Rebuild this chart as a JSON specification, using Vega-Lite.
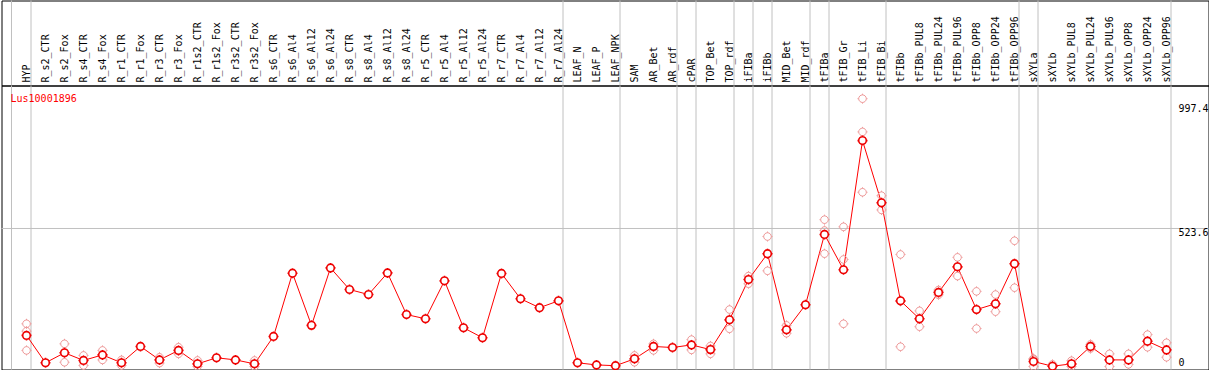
{
  "$schema": "https://vega.github.io/schema/vega-lite/v6.json",
  "padding": {"left": 0.5, "top": -0.5, "right": 0, "bottom": 0},
  "spacing": 0,
  "bounds": "flush",
  "config": {"view": {"stroke": "#000000", "strokeWidth": 1}, "font": "DejaVu Sans Mono"},
  "datasets": {
    "seps": [{"name": "HYP"}, {"name": "R_r7_Al24"}, {"name": "LEAF_NPK"}, {"name": "AR_rdf"}, {"name": "cPAR"}, {"name": "TOP_rdf"}, {"name": "iFIBa"}, {"name": "iFIBb"}, {"name": "MID_rdf"}, {"name": "tFIBa"}, {"name": "tFIB_Bi"}, {"name": "tFIBb_OPP96"}, {"name": "sXYLa"}, {"name": "sXYLb_OPP96"}],
    "first": [{"name": "HYP", "gene": "Lus10001896"}],
    "ticks": [{"name": "sXYLb_OPP96", "v": 523.6}, {"name": "sXYLb_OPP96", "v": 997.4}],
    "zero": [{"name": "sXYLb_OPP96", "v": 0}],
    "means": [
      {"name": "HYP", "value": 118}, {"name": "R_s2_CTR", "value": 14}, {"name": "R_s2_Fox", "value": 52}, {"name": "R_s4_CTR", "value": 23}, {"name": "R_s4_Fox", "value": 44}, {"name": "R_r1_CTR", "value": 14}, {"name": "R_r1_Fox", "value": 76}, {"name": "R_r3_CTR", "value": 25}, {"name": "R_r3_Fox", "value": 61}, {"name": "R_r1s2_CTR", "value": 10}, {"name": "R_r1s2_Fox", "value": 33}, {"name": "R_r3s2_CTR", "value": 25}, {"name": "R_r3s2_Fox", "value": 10},
      {"name": "R_s6_CTR", "value": 114}, {"name": "R_s6_Al4", "value": 354}, {"name": "R_s6_Al12", "value": 156}, {"name": "R_s6_Al24", "value": 374},
      {"name": "R_s8_CTR", "value": 292}, {"name": "R_s8_Al4", "value": 273}, {"name": "R_s8_Al12", "value": 355}, {"name": "R_s8_Al24", "value": 197},
      {"name": "R_r5_CTR", "value": 181}, {"name": "R_r5_Al4", "value": 325}, {"name": "R_r5_Al12", "value": 147}, {"name": "R_r5_Al24", "value": 109},
      {"name": "R_r7_CTR", "value": 353}, {"name": "R_r7_Al4", "value": 257}, {"name": "R_r7_Al12", "value": 223}, {"name": "R_r7_Al24", "value": 249},
      {"name": "LEAF_N", "value": 14}, {"name": "LEAF_P", "value": 6}, {"name": "LEAF_NPK", "value": 3}, {"name": "SAM", "value": 29}, {"name": "AR_Bet", "value": 76}, {"name": "AR_rdf", "value": 72}, {"name": "cPAR", "value": 82}, {"name": "TOP_Bet", "value": 64}, {"name": "TOP_rdf", "value": 177}, {"name": "iFIBa", "value": 330}, {"name": "iFIBb", "value": 428}, {"name": "MID_Bet", "value": 139}, {"name": "MID_rdf", "value": 234},
      {"name": "tFIBa", "value": 501}, {"name": "tFIB_Gr", "value": 367}, {"name": "tFIB_Li", "value": 857}, {"name": "tFIB_Bi", "value": 621}, {"name": "tFIBb", "value": 249}, {"name": "tFIBb_PUL8", "value": 181}, {"name": "tFIBb_PUL24", "value": 281}, {"name": "tFIBb_PUL96", "value": 378}, {"name": "tFIBb_OPP8", "value": 216}, {"name": "tFIBb_OPP24", "value": 238}, {"name": "tFIBb_OPP96", "value": 390},
      {"name": "sXYLa", "value": 19}, {"name": "sXYLb", "value": 1}, {"name": "sXYLb_PUL8", "value": 10}, {"name": "sXYLb_PUL24", "value": 76}, {"name": "sXYLb_PUL96", "value": 25}, {"name": "sXYLb_OPP8", "value": 25}, {"name": "sXYLb_OPP24", "value": 96}, {"name": "sXYLb_OPP96", "value": 63}
    ],
    "reps": [
      {"name": "HYP", "value": 162}, {"name": "HYP", "value": 134}, {"name": "HYP", "value": 61},
      {"name": "R_s2_Fox", "value": 86}, {"name": "R_s2_Fox", "value": 52}, {"name": "R_s2_Fox", "value": 16},
      {"name": "R_s4_CTR", "value": 42}, {"name": "R_s4_CTR", "value": 23}, {"name": "R_s4_CTR", "value": 4},
      {"name": "R_s4_Fox", "value": 61}, {"name": "R_s4_Fox", "value": 44}, {"name": "R_s4_Fox", "value": 25},
      {"name": "R_r1_CTR", "value": 25}, {"name": "R_r1_CTR", "value": 14}, {"name": "R_r1_CTR", "value": 4},
      {"name": "R_r3_CTR", "value": 35}, {"name": "R_r3_CTR", "value": 25}, {"name": "R_r3_CTR", "value": 13},
      {"name": "R_r3_Fox", "value": 73}, {"name": "R_r3_Fox", "value": 61}, {"name": "R_r3_Fox", "value": 48},
      {"name": "R_r1s2_CTR", "value": 23}, {"name": "R_r1s2_CTR", "value": 10}, {"name": "R_r1s2_CTR", "value": 0},
      {"name": "R_r3s2_Fox", "value": 23}, {"name": "R_r3s2_Fox", "value": 10}, {"name": "R_r3s2_Fox", "value": 0},
      {"name": "SAM", "value": 42}, {"name": "SAM", "value": 29}, {"name": "SAM", "value": 16},
      {"name": "AR_Bet", "value": 86}, {"name": "AR_Bet", "value": 76}, {"name": "AR_Bet", "value": 61},
      {"name": "cPAR", "value": 102}, {"name": "cPAR", "value": 82}, {"name": "cPAR", "value": 63},
      {"name": "TOP_Bet", "value": 78}, {"name": "TOP_Bet", "value": 64}, {"name": "TOP_Bet", "value": 48},
      {"name": "TOP_rdf", "value": 216}, {"name": "TOP_rdf", "value": 177}, {"name": "TOP_rdf", "value": 143},
      {"name": "iFIBa", "value": 343}, {"name": "iFIBa", "value": 330}, {"name": "iFIBa", "value": 314},
      {"name": "iFIBb", "value": 493}, {"name": "iFIBb", "value": 428}, {"name": "iFIBb", "value": 363},
      {"name": "MID_Bet", "value": 156}, {"name": "MID_Bet", "value": 139}, {"name": "MID_Bet", "value": 126},
      {"name": "tFIBa", "value": 557}, {"name": "tFIBa", "value": 516}, {"name": "tFIBa", "value": 428},
      {"name": "tFIB_Gr", "value": 530}, {"name": "tFIB_Gr", "value": 406}, {"name": "tFIB_Gr", "value": 162},
      {"name": "tFIB_Li", "value": 1016}, {"name": "tFIB_Li", "value": 890}, {"name": "tFIB_Li", "value": 661},
      {"name": "tFIB_Bi", "value": 648}, {"name": "tFIB_Bi", "value": 621}, {"name": "tFIB_Bi", "value": 594},
      {"name": "tFIBb", "value": 425}, {"name": "tFIBb", "value": 247}, {"name": "tFIBb", "value": 75},
      {"name": "tFIBb_PUL8", "value": 211}, {"name": "tFIBb_PUL8", "value": 181}, {"name": "tFIBb_PUL8", "value": 151},
      {"name": "tFIBb_PUL24", "value": 290}, {"name": "tFIBb_PUL24", "value": 281}, {"name": "tFIBb_PUL24", "value": 272},
      {"name": "tFIBb_PUL96", "value": 414}, {"name": "tFIBb_PUL96", "value": 378}, {"name": "tFIBb_PUL96", "value": 343},
      {"name": "tFIBb_OPP8", "value": 285}, {"name": "tFIBb_OPP8", "value": 216}, {"name": "tFIBb_OPP8", "value": 144},
      {"name": "tFIBb_OPP24", "value": 273}, {"name": "tFIBb_OPP24", "value": 238}, {"name": "tFIBb_OPP24", "value": 208},
      {"name": "tFIBb_OPP96", "value": 477}, {"name": "tFIBb_OPP96", "value": 390}, {"name": "tFIBb_OPP96", "value": 299},
      {"name": "sXYLa", "value": 30}, {"name": "sXYLa", "value": 27}, {"name": "sXYLa", "value": 0},
      {"name": "sXYLb", "value": 8}, {"name": "sXYLb", "value": 0}, {"name": "sXYLb", "value": 0},
      {"name": "sXYLb_PUL8", "value": 22}, {"name": "sXYLb_PUL8", "value": 8}, {"name": "sXYLb_PUL8", "value": 0},
      {"name": "sXYLb_PUL24", "value": 84}, {"name": "sXYLb_PUL24", "value": 76}, {"name": "sXYLb_PUL24", "value": 68},
      {"name": "sXYLb_PUL96", "value": 48}, {"name": "sXYLb_PUL96", "value": 25}, {"name": "sXYLb_PUL96", "value": 0},
      {"name": "sXYLb_OPP8", "value": 48}, {"name": "sXYLb_OPP8", "value": 25}, {"name": "sXYLb_OPP8", "value": 8},
      {"name": "sXYLb_OPP24", "value": 121}, {"name": "sXYLb_OPP24", "value": 96}, {"name": "sXYLb_OPP24", "value": 73},
      {"name": "sXYLb_OPP96", "value": 90}, {"name": "sXYLb_OPP96", "value": 63}, {"name": "sXYLb_OPP96", "value": 35}
    ]
  },
  "vconcat": [
    {
      "width": 1207,
      "height": 85,
      "layer": [
        {
          "data": {"name": "seps"},
          "mark": {"type": "rule", "color": "#c0c0c0", "strokeWidth": 1},
          "encoding": {
            "x": {"field": "name", "type": "nominal", "bandPosition": 0.737, "axis": null,
              "scale": {"type": "band", "range": [15.5, 1174.5], "paddingInner": 0, "paddingOuter": 0, "domain": ["HYP","R_s2_CTR","R_s2_Fox","R_s4_CTR","R_s4_Fox","R_r1_CTR","R_r1_Fox","R_r3_CTR","R_r3_Fox","R_r1s2_CTR","R_r1s2_Fox","R_r3s2_CTR","R_r3s2_Fox","R_s6_CTR","R_s6_Al4","R_s6_Al12","R_s6_Al24","R_s8_CTR","R_s8_Al4","R_s8_Al12","R_s8_Al24","R_r5_CTR","R_r5_Al4","R_r5_Al12","R_r5_Al24","R_r7_CTR","R_r7_Al4","R_r7_Al12","R_r7_Al24","LEAF_N","LEAF_P","LEAF_NPK","SAM","AR_Bet","AR_rdf","cPAR","TOP_Bet","TOP_rdf","iFIBa","iFIBb","MID_Bet","MID_rdf","tFIBa","tFIB_Gr","tFIB_Li","tFIB_Bi","tFIBb","tFIBb_PUL8","tFIBb_PUL24","tFIBb_PUL96","tFIBb_OPP8","tFIBb_OPP24","tFIBb_OPP96","sXYLa","sXYLb","sXYLb_PUL8","sXYLb_PUL24","sXYLb_PUL96","sXYLb_OPP8","sXYLb_OPP24","sXYLb_OPP96"]}},
            "y": {"datum": 0, "type": "quantitative", "scale": {"domain": [0, 1], "nice": false, "zero": false}, "axis": null},
            "y2": {"datum": 1}
          }
        },
        {
          "data": {"name": "first"},
          "mark": {"type": "rule", "color": "#c0c0c0", "strokeWidth": 1},
          "encoding": {
            "x": {"field": "name", "type": "nominal", "bandPosition": -0.29, "axis": null,
              "scale": {"type": "band", "range": [15.5, 1174.5], "paddingInner": 0, "paddingOuter": 0, "domain": ["HYP","R_s2_CTR","R_s2_Fox","R_s4_CTR","R_s4_Fox","R_r1_CTR","R_r1_Fox","R_r3_CTR","R_r3_Fox","R_r1s2_CTR","R_r1s2_Fox","R_r3s2_CTR","R_r3s2_Fox","R_s6_CTR","R_s6_Al4","R_s6_Al12","R_s6_Al24","R_s8_CTR","R_s8_Al4","R_s8_Al12","R_s8_Al24","R_r5_CTR","R_r5_Al4","R_r5_Al12","R_r5_Al24","R_r7_CTR","R_r7_Al4","R_r7_Al12","R_r7_Al24","LEAF_N","LEAF_P","LEAF_NPK","SAM","AR_Bet","AR_rdf","cPAR","TOP_Bet","TOP_rdf","iFIBa","iFIBb","MID_Bet","MID_rdf","tFIBa","tFIB_Gr","tFIB_Li","tFIB_Bi","tFIBb","tFIBb_PUL8","tFIBb_PUL24","tFIBb_PUL96","tFIBb_OPP8","tFIBb_OPP24","tFIBb_OPP96","sXYLa","sXYLb","sXYLb_PUL8","sXYLb_PUL24","sXYLb_PUL96","sXYLb_OPP8","sXYLb_OPP24","sXYLb_OPP96"]}},
            "y": {"datum": 0, "type": "quantitative", "scale": {"domain": [0, 1], "nice": false, "zero": false}, "axis": null},
            "y2": {"datum": 1}
          }
        },
        {
          "data": {"name": "means"},
          "mark": {"type": "text", "angle": 270, "align": "left", "baseline": "middle", "dx": 3, "font": "DejaVu Sans Mono", "fontSize": 10, "color": "#000000"},
          "encoding": {
            "x": {"field": "name", "type": "nominal", "axis": null,
              "scale": {"type": "band", "range": [15.5, 1174.5], "paddingInner": 0, "paddingOuter": 0, "domain": ["HYP","R_s2_CTR","R_s2_Fox","R_s4_CTR","R_s4_Fox","R_r1_CTR","R_r1_Fox","R_r3_CTR","R_r3_Fox","R_r1s2_CTR","R_r1s2_Fox","R_r3s2_CTR","R_r3s2_Fox","R_s6_CTR","R_s6_Al4","R_s6_Al12","R_s6_Al24","R_s8_CTR","R_s8_Al4","R_s8_Al12","R_s8_Al24","R_r5_CTR","R_r5_Al4","R_r5_Al12","R_r5_Al24","R_r7_CTR","R_r7_Al4","R_r7_Al12","R_r7_Al24","LEAF_N","LEAF_P","LEAF_NPK","SAM","AR_Bet","AR_rdf","cPAR","TOP_Bet","TOP_rdf","iFIBa","iFIBb","MID_Bet","MID_rdf","tFIBa","tFIB_Gr","tFIB_Li","tFIB_Bi","tFIBb","tFIBb_PUL8","tFIBb_PUL24","tFIBb_PUL96","tFIBb_OPP8","tFIBb_OPP24","tFIBb_OPP96","sXYLa","sXYLb","sXYLb_PUL8","sXYLb_PUL24","sXYLb_PUL96","sXYLb_OPP8","sXYLb_OPP24","sXYLb_OPP96"]}},
            "y": {"datum": 0, "type": "quantitative", "scale": {"domain": [0, 1], "nice": false, "zero": false}, "axis": null},
            "text": {"field": "name"}
          }
        }
      ]
    },
    {
      "width": 1207,
      "height": 284,
      "layer": [
        {
          "data": {"name": "seps"},
          "mark": {"type": "rule", "color": "#c0c0c0", "strokeWidth": 1},
          "encoding": {
            "x": {"field": "name", "type": "nominal", "bandPosition": 0.737, "axis": null,
              "scale": {"type": "band", "range": [15.5, 1174.5], "paddingInner": 0, "paddingOuter": 0, "domain": ["HYP","R_s2_CTR","R_s2_Fox","R_s4_CTR","R_s4_Fox","R_r1_CTR","R_r1_Fox","R_r3_CTR","R_r3_Fox","R_r1s2_CTR","R_r1s2_Fox","R_r3s2_CTR","R_r3s2_Fox","R_s6_CTR","R_s6_Al4","R_s6_Al12","R_s6_Al24","R_s8_CTR","R_s8_Al4","R_s8_Al12","R_s8_Al24","R_r5_CTR","R_r5_Al4","R_r5_Al12","R_r5_Al24","R_r7_CTR","R_r7_Al4","R_r7_Al12","R_r7_Al24","LEAF_N","LEAF_P","LEAF_NPK","SAM","AR_Bet","AR_rdf","cPAR","TOP_Bet","TOP_rdf","iFIBa","iFIBb","MID_Bet","MID_rdf","tFIBa","tFIB_Gr","tFIB_Li","tFIB_Bi","tFIBb","tFIBb_PUL8","tFIBb_PUL24","tFIBb_PUL96","tFIBb_OPP8","tFIBb_OPP24","tFIBb_OPP96","sXYLa","sXYLb","sXYLb_PUL8","sXYLb_PUL24","sXYLb_PUL96","sXYLb_OPP8","sXYLb_OPP24","sXYLb_OPP96"]}},
            "y": {"datum": -11.4, "type": "quantitative", "scale": {"domain": [-11.4, 1066], "nice": false, "zero": false}, "axis": null},
            "y2": {"datum": 1066}
          }
        },
        {
          "data": {"name": "first"},
          "mark": {"type": "rule", "color": "#c0c0c0", "strokeWidth": 1},
          "encoding": {
            "x": {"field": "name", "type": "nominal", "bandPosition": -0.29, "axis": null,
              "scale": {"type": "band", "range": [15.5, 1174.5], "paddingInner": 0, "paddingOuter": 0, "domain": ["HYP","R_s2_CTR","R_s2_Fox","R_s4_CTR","R_s4_Fox","R_r1_CTR","R_r1_Fox","R_r3_CTR","R_r3_Fox","R_r1s2_CTR","R_r1s2_Fox","R_r3s2_CTR","R_r3s2_Fox","R_s6_CTR","R_s6_Al4","R_s6_Al12","R_s6_Al24","R_s8_CTR","R_s8_Al4","R_s8_Al12","R_s8_Al24","R_r5_CTR","R_r5_Al4","R_r5_Al12","R_r5_Al24","R_r7_CTR","R_r7_Al4","R_r7_Al12","R_r7_Al24","LEAF_N","LEAF_P","LEAF_NPK","SAM","AR_Bet","AR_rdf","cPAR","TOP_Bet","TOP_rdf","iFIBa","iFIBb","MID_Bet","MID_rdf","tFIBa","tFIB_Gr","tFIB_Li","tFIB_Bi","tFIBb","tFIBb_PUL8","tFIBb_PUL24","tFIBb_PUL96","tFIBb_OPP8","tFIBb_OPP24","tFIBb_OPP96","sXYLa","sXYLb","sXYLb_PUL8","sXYLb_PUL24","sXYLb_PUL96","sXYLb_OPP8","sXYLb_OPP24","sXYLb_OPP96"]}},
            "y": {"datum": -11.4, "type": "quantitative", "scale": {"domain": [-11.4, 1066], "nice": false, "zero": false}, "axis": null},
            "y2": {"datum": 1066}
          }
        },
        {
          "data": {"name": "first"},
          "mark": {"type": "rule", "color": "#c0c0c0", "strokeWidth": 1},
          "encoding": {
            "y": {"datum": 523.6, "type": "quantitative", "scale": {"domain": [-11.4, 1066], "nice": false, "zero": false}, "axis": null}
          }
        },
        {
          "data": {"name": "means"},
          "mark": {"type": "line", "color": "#ff0000", "strokeWidth": 1},
          "encoding": {
            "x": {"field": "name", "type": "nominal", "axis": null,
              "scale": {"type": "band", "range": [15.5, 1174.5], "paddingInner": 0, "paddingOuter": 0, "domain": ["HYP","R_s2_CTR","R_s2_Fox","R_s4_CTR","R_s4_Fox","R_r1_CTR","R_r1_Fox","R_r3_CTR","R_r3_Fox","R_r1s2_CTR","R_r1s2_Fox","R_r3s2_CTR","R_r3s2_Fox","R_s6_CTR","R_s6_Al4","R_s6_Al12","R_s6_Al24","R_s8_CTR","R_s8_Al4","R_s8_Al12","R_s8_Al24","R_r5_CTR","R_r5_Al4","R_r5_Al12","R_r5_Al24","R_r7_CTR","R_r7_Al4","R_r7_Al12","R_r7_Al24","LEAF_N","LEAF_P","LEAF_NPK","SAM","AR_Bet","AR_rdf","cPAR","TOP_Bet","TOP_rdf","iFIBa","iFIBb","MID_Bet","MID_rdf","tFIBa","tFIB_Gr","tFIB_Li","tFIB_Bi","tFIBb","tFIBb_PUL8","tFIBb_PUL24","tFIBb_PUL96","tFIBb_OPP8","tFIBb_OPP24","tFIBb_OPP96","sXYLa","sXYLb","sXYLb_PUL8","sXYLb_PUL24","sXYLb_PUL96","sXYLb_OPP8","sXYLb_OPP24","sXYLb_OPP96"]}},
            "y": {"field": "value", "type": "quantitative", "scale": {"domain": [-11.4, 1066], "nice": false, "zero": false}, "axis": null},
            "order": {"value": null}
          }
        },
        {
          "data": {"name": "reps"},
          "mark": {"type": "point", "shape": "M-0.76,0A0.76,0.76,0,1,1,0.76,0A0.76,0.76,0,1,1,-0.76,0Z M0,-1L0,-0.76 M0,0.76L0,1 M-1,0L-0.76,0 M0.76,0L1,0", "size": 100, "filled": false, "stroke": "#ee9a9a", "strokeWidth": 1, "opacity": 1},
          "encoding": {
            "x": {"field": "name", "type": "nominal", "axis": null,
              "scale": {"type": "band", "range": [15.5, 1174.5], "paddingInner": 0, "paddingOuter": 0, "domain": ["HYP","R_s2_CTR","R_s2_Fox","R_s4_CTR","R_s4_Fox","R_r1_CTR","R_r1_Fox","R_r3_CTR","R_r3_Fox","R_r1s2_CTR","R_r1s2_Fox","R_r3s2_CTR","R_r3s2_Fox","R_s6_CTR","R_s6_Al4","R_s6_Al12","R_s6_Al24","R_s8_CTR","R_s8_Al4","R_s8_Al12","R_s8_Al24","R_r5_CTR","R_r5_Al4","R_r5_Al12","R_r5_Al24","R_r7_CTR","R_r7_Al4","R_r7_Al12","R_r7_Al24","LEAF_N","LEAF_P","LEAF_NPK","SAM","AR_Bet","AR_rdf","cPAR","TOP_Bet","TOP_rdf","iFIBa","iFIBb","MID_Bet","MID_rdf","tFIBa","tFIB_Gr","tFIB_Li","tFIB_Bi","tFIBb","tFIBb_PUL8","tFIBb_PUL24","tFIBb_PUL96","tFIBb_OPP8","tFIBb_OPP24","tFIBb_OPP96","sXYLa","sXYLb","sXYLb_PUL8","sXYLb_PUL24","sXYLb_PUL96","sXYLb_OPP8","sXYLb_OPP24","sXYLb_OPP96"]}},
            "y": {"field": "value", "type": "quantitative", "scale": {"domain": [-11.4, 1066], "nice": false, "zero": false}, "axis": null}
          }
        },
        {
          "data": {"name": "means"},
          "mark": {"type": "point", "shape": "M-0.76,0A0.76,0.76,0,1,1,0.76,0A0.76,0.76,0,1,1,-0.76,0Z M0,-1L0,-0.76 M0,0.76L0,1 M-1,0L-0.76,0 M0.76,0L1,0", "size": 100, "filled": false, "fill": "#ffffff", "fillOpacity": 1, "stroke": "#ee0000", "strokeWidth": 1.6, "opacity": 1},
          "encoding": {
            "x": {"field": "name", "type": "nominal", "axis": null,
              "scale": {"type": "band", "range": [15.5, 1174.5], "paddingInner": 0, "paddingOuter": 0, "domain": ["HYP","R_s2_CTR","R_s2_Fox","R_s4_CTR","R_s4_Fox","R_r1_CTR","R_r1_Fox","R_r3_CTR","R_r3_Fox","R_r1s2_CTR","R_r1s2_Fox","R_r3s2_CTR","R_r3s2_Fox","R_s6_CTR","R_s6_Al4","R_s6_Al12","R_s6_Al24","R_s8_CTR","R_s8_Al4","R_s8_Al12","R_s8_Al24","R_r5_CTR","R_r5_Al4","R_r5_Al12","R_r5_Al24","R_r7_CTR","R_r7_Al4","R_r7_Al12","R_r7_Al24","LEAF_N","LEAF_P","LEAF_NPK","SAM","AR_Bet","AR_rdf","cPAR","TOP_Bet","TOP_rdf","iFIBa","iFIBb","MID_Bet","MID_rdf","tFIBa","tFIB_Gr","tFIB_Li","tFIB_Bi","tFIBb","tFIBb_PUL8","tFIBb_PUL24","tFIBb_PUL96","tFIBb_OPP8","tFIBb_OPP24","tFIBb_OPP96","sXYLa","sXYLb","sXYLb_PUL8","sXYLb_PUL24","sXYLb_PUL96","sXYLb_OPP8","sXYLb_OPP24","sXYLb_OPP96"]}},
            "y": {"field": "value", "type": "quantitative", "scale": {"domain": [-11.4, 1066], "nice": false, "zero": false}, "axis": null}
          }
        },
        {
          "data": {"name": "first"},
          "mark": {"type": "text", "align": "left", "baseline": "top", "dy": 8, "font": "DejaVu Sans Mono", "fontSize": 10, "color": "#ff0000"},
          "encoding": {
            "x": {"field": "name", "type": "nominal", "bandPosition": -0.342, "axis": null,
              "scale": {"type": "band", "range": [15.5, 1174.5], "paddingInner": 0, "paddingOuter": 0, "domain": ["HYP","R_s2_CTR","R_s2_Fox","R_s4_CTR","R_s4_Fox","R_r1_CTR","R_r1_Fox","R_r3_CTR","R_r3_Fox","R_r1s2_CTR","R_r1s2_Fox","R_r3s2_CTR","R_r3s2_Fox","R_s6_CTR","R_s6_Al4","R_s6_Al12","R_s6_Al24","R_s8_CTR","R_s8_Al4","R_s8_Al12","R_s8_Al24","R_r5_CTR","R_r5_Al4","R_r5_Al12","R_r5_Al24","R_r7_CTR","R_r7_Al4","R_r7_Al12","R_r7_Al24","LEAF_N","LEAF_P","LEAF_NPK","SAM","AR_Bet","AR_rdf","cPAR","TOP_Bet","TOP_rdf","iFIBa","iFIBb","MID_Bet","MID_rdf","tFIBa","tFIB_Gr","tFIB_Li","tFIB_Bi","tFIBb","tFIBb_PUL8","tFIBb_PUL24","tFIBb_PUL96","tFIBb_OPP8","tFIBb_OPP24","tFIBb_OPP96","sXYLa","sXYLb","sXYLb_PUL8","sXYLb_PUL24","sXYLb_PUL96","sXYLb_OPP8","sXYLb_OPP24","sXYLb_OPP96"]}},
            "y": {"datum": 1066, "type": "quantitative", "scale": {"domain": [-11.4, 1066], "nice": false, "zero": false}, "axis": null},
            "text": {"field": "gene"}
          }
        },
        {
          "data": {"name": "ticks"},
          "mark": {"type": "text", "align": "left", "baseline": "top", "font": "DejaVu Sans Mono", "fontSize": 10, "color": "#000000"},
          "encoding": {
            "x": {"field": "name", "type": "nominal", "bandPosition": 1.13, "axis": null,
              "scale": {"type": "band", "range": [15.5, 1174.5], "paddingInner": 0, "paddingOuter": 0, "domain": ["HYP","R_s2_CTR","R_s2_Fox","R_s4_CTR","R_s4_Fox","R_r1_CTR","R_r1_Fox","R_r3_CTR","R_r3_Fox","R_r1s2_CTR","R_r1s2_Fox","R_r3s2_CTR","R_r3s2_Fox","R_s6_CTR","R_s6_Al4","R_s6_Al12","R_s6_Al24","R_s8_CTR","R_s8_Al4","R_s8_Al12","R_s8_Al24","R_r5_CTR","R_r5_Al4","R_r5_Al12","R_r5_Al24","R_r7_CTR","R_r7_Al4","R_r7_Al12","R_r7_Al24","LEAF_N","LEAF_P","LEAF_NPK","SAM","AR_Bet","AR_rdf","cPAR","TOP_Bet","TOP_rdf","iFIBa","iFIBb","MID_Bet","MID_rdf","tFIBa","tFIB_Gr","tFIB_Li","tFIB_Bi","tFIBb","tFIBb_PUL8","tFIBb_PUL24","tFIBb_PUL96","tFIBb_OPP8","tFIBb_OPP24","tFIBb_OPP96","sXYLa","sXYLb","sXYLb_PUL8","sXYLb_PUL24","sXYLb_PUL96","sXYLb_OPP8","sXYLb_OPP24","sXYLb_OPP96"]}},
            "y": {"field": "v", "type": "quantitative", "scale": {"domain": [-11.4, 1066], "nice": false, "zero": false}, "axis": null},
            "text": {"field": "v", "type": "quantitative", "format": "~g"}
          }
        },
        {
          "data": {"name": "zero"},
          "mark": {"type": "text", "align": "left", "baseline": "alphabetic", "font": "DejaVu Sans Mono", "fontSize": 10, "color": "#000000"},
          "encoding": {
            "x": {"field": "name", "type": "nominal", "bandPosition": 1.13, "axis": null,
              "scale": {"type": "band", "range": [15.5, 1174.5], "paddingInner": 0, "paddingOuter": 0, "domain": ["HYP","R_s2_CTR","R_s2_Fox","R_s4_CTR","R_s4_Fox","R_r1_CTR","R_r1_Fox","R_r3_CTR","R_r3_Fox","R_r1s2_CTR","R_r1s2_Fox","R_r3s2_CTR","R_r3s2_Fox","R_s6_CTR","R_s6_Al4","R_s6_Al12","R_s6_Al24","R_s8_CTR","R_s8_Al4","R_s8_Al12","R_s8_Al24","R_r5_CTR","R_r5_Al4","R_r5_Al12","R_r5_Al24","R_r7_CTR","R_r7_Al4","R_r7_Al12","R_r7_Al24","LEAF_N","LEAF_P","LEAF_NPK","SAM","AR_Bet","AR_rdf","cPAR","TOP_Bet","TOP_rdf","iFIBa","iFIBb","MID_Bet","MID_rdf","tFIBa","tFIB_Gr","tFIB_Li","tFIB_Bi","tFIBb","tFIBb_PUL8","tFIBb_PUL24","tFIBb_PUL96","tFIBb_OPP8","tFIBb_OPP24","tFIBb_OPP96","sXYLa","sXYLb","sXYLb_PUL8","sXYLb_PUL24","sXYLb_PUL96","sXYLb_OPP8","sXYLb_OPP24","sXYLb_OPP96"]}},
            "y": {"field": "v", "type": "quantitative", "scale": {"domain": [-11.4, 1066], "nice": false, "zero": false}, "axis": null},
            "text": {"field": "v", "type": "quantitative", "format": "~g"}
          }
        }
      ]
    }
  ]
}
